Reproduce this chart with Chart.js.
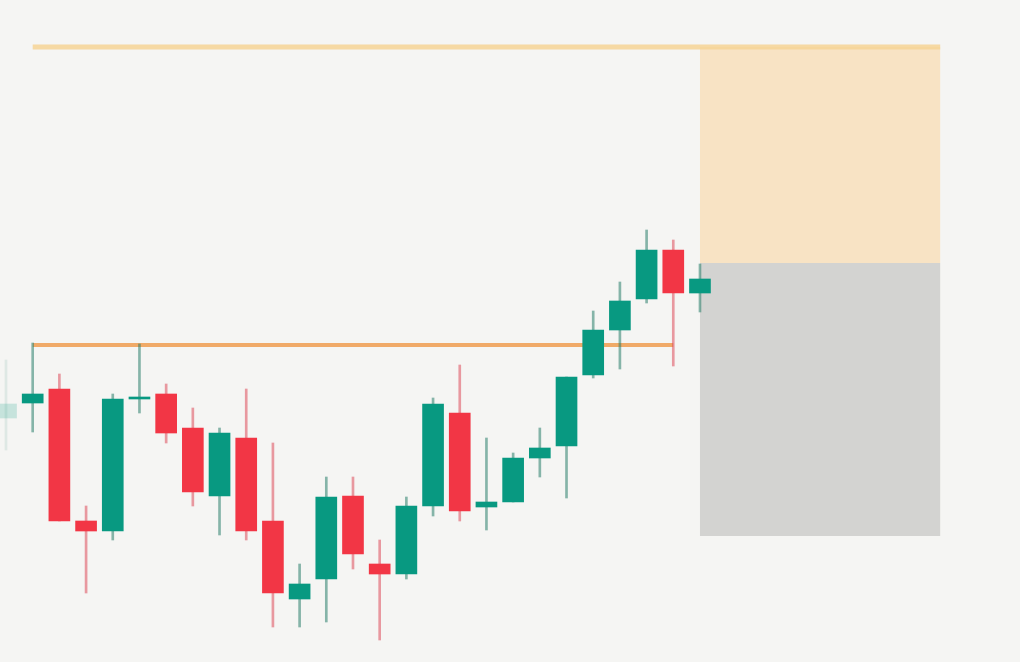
<!DOCTYPE html>
<html>
<head>
<meta charset="utf-8">
<script src="https://cdn.jsdelivr.net/npm/chart.js@4.4.1/dist/chart.umd.min.js"></script>
<style>
    html, body { margin: 0; padding: 0; background: #f5f5f3; }
    #wrap { width: 1020px; height: 662px; }
</style>
</head>
<body>
<div id="wrap"><canvas id="priceChart" width="1020" height="662"></canvas></div>
<script>
// candle data (oldest first), one entry per bar index
const opens  = [191, 198.5, 205.5, 139.5, 134.5, 200.5, 203, 186, 152, 181, 139.5, 100.5, 110.5, 152, 118, 113, 147, 193.5, 146.5, 149, 171, 177, 212.5, 235, 250.5, 275, 253.5];
const highs  = [220, 228.5, 213, 147, 203, 228, 208, 196, 186, 205.5, 178.5, 118, 161.5, 161.5, 130, 151.5, 201, 217.5, 181, 173.5, 186, 211.5, 244.5, 259, 285, 280, 268];
const lows   = [175, 184, 139.5, 103.5, 130, 193.5, 178.5, 147, 132.5, 130, 86.5, 86.5, 89, 115.5, 80, 110.5, 142, 139.5, 135, 149, 161.5, 151, 211, 215.5, 248.5, 217, 244];
const closes = [198, 203, 139.5, 134.5, 200.5, 201.5, 183.5, 154, 183.5, 134.5, 103.5, 108, 151.5, 123, 113, 147, 198, 144.5, 149, 171, 176, 211.5, 235, 249.5, 275, 253.5, 260.5];
const fadedCandles = [0];

// horizontal levels
const levelPrices = [376.5, 227.5];
const levelStart  = [1, 1];
const levelEnd    = [35, 25];

// long position tool
const zoneStart   = 26;
const zoneEnd     = 35;
const targetPrice = 376.5;
const entryPrice  = 268.5;
const stopPrice   = 132;

const UP = '8, 153, 129';
const DOWN = '242, 54, 69';
const UP_WICK = '40, 125, 105';
const DOWN_WICK = '220, 75, 90';

function candleColor(i, wick) {
    const up = closes[i] >= opens[i];
    const rgb = wick ? (up ? UP_WICK : DOWN_WICK) : (up ? UP : DOWN);
    let a = wick ? 0.55 : 1;
    if (fadedCandles.includes(i)) a *= 0.2;
    return `rgba(${rgb}, ${a})`;
}

const bodies = opens.map((o, i) => ({ x: i, y: [o, closes[i]] }));
const wicks = highs.map((h, i) => ({ x: i, y: [lows[i], h] }));

const overlayPlugin = {
    id: 'overlay',
    beforeDatasetsDraw(chart) {
        const { ctx, scales: { x, y } } = chart;
        ctx.save();
        const left = x.getPixelForValue(zoneStart);
        const right = x.getPixelForValue(zoneEnd);
        // profit zone
        ctx.fillStyle = '#f8e3c4';
        ctx.fillRect(left, y.getPixelForValue(targetPrice), right - left,
            y.getPixelForValue(entryPrice) - y.getPixelForValue(targetPrice));
        // loss zone
        ctx.fillStyle = '#d3d3d1';
        ctx.fillRect(left, y.getPixelForValue(entryPrice), right - left,
            y.getPixelForValue(stopPrice) - y.getPixelForValue(entryPrice));

        const lineColors = ['rgba(246, 212, 148, 0.85)', '#f0aa68'];
        const lineWidths = [5, 4];
        levelPrices.forEach((p, i) => {
            const py = y.getPixelForValue(p);
            ctx.strokeStyle = lineColors[i];
            ctx.lineWidth = lineWidths[i];
            ctx.beginPath();
            ctx.moveTo(x.getPixelForValue(levelStart[i]), py);
            ctx.lineTo(x.getPixelForValue(levelEnd[i]), py);
            ctx.stroke();
        });
        ctx.restore();
    }
};

new Chart(document.getElementById('priceChart'), {
    type: 'bar',
    data: {
        datasets: [
            {
                label: 'body',
                data: bodies,
                order: 1,
                grouped: false,
                barThickness: 21,
                backgroundColor: ctx => candleColor(ctx.dataIndex, false),
                borderSkipped: false,
                borderWidth: 0
            },
            {
                label: 'wick',
                data: wicks,
                order: 2,
                grouped: false,
                barThickness: 2,
                backgroundColor: ctx => candleColor(ctx.dataIndex, true),
                borderSkipped: false,
                borderWidth: 0
            }
        ]
    },
    options: {
        responsive: false,
        animation: false,
        layout: { padding: 0 },
        plugins: {
            legend: { display: false },
            tooltip: { enabled: false }
        },
        scales: {
            x: {
                type: 'linear',
                min: -0.225,
                max: 37.99,
                offset: false,
                display: false
            },
            y: {
                type: 'linear',
                min: 69,
                max: 400,
                display: false
            }
        }
    },
    plugins: [overlayPlugin]
});
</script>
</body>
</html>
